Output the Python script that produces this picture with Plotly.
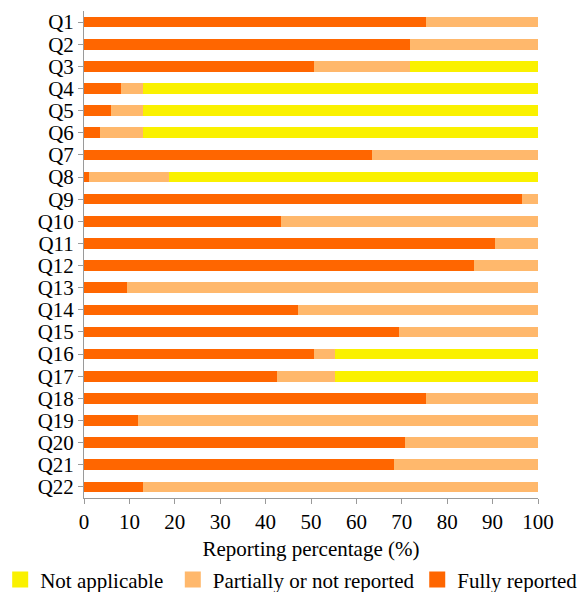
import plotly.graph_objects as go

categories = [f"Q{i}" for i in range(1, 23)]
fully = [75.3, 71.8, 50.6, 8.2, 5.9, 3.5, 63.5, 1.2, 96.5, 43.5, 90.6,
         85.9, 9.4, 47.1, 69.4, 50.6, 42.4, 75.3, 11.8, 70.6, 68.2, 12.9]
partial = [24.7, 28.2, 21.2, 4.7, 7.1, 9.4, 36.5, 17.6, 3.5, 56.5, 9.4,
           14.1, 90.6, 52.9, 30.6, 4.7, 12.9, 24.7, 88.2, 29.4, 31.8, 87.1]
not_applicable = [0, 0, 28.2, 87.1, 87.1, 87.1, 0, 81.2, 0, 0, 0,
                  0, 0, 0, 0, 44.7, 44.7, 0, 0, 0, 0, 0]
x_ticks = [0, 10, 20, 30, 40, 50, 60, 70, 80, 90, 100]

series_names = ["Fully reported", "Partially or not reported", "Not applicable"]
series_colors = ["#FF6600", "#FFB86C", "#FAF100"]
series_values = [fully, partial, not_applicable]
legend_ids = ["legend3", "legend2", "legend"]

FONT = "Liberation Serif"

fig = go.Figure()
for name, color, vals in zip(series_names, series_colors, series_values):
    fig.add_trace(go.Bar(y=categories, x=vals, orientation="h", name=name,
                         marker=dict(color=color, line=dict(width=0)), width=0.48,
                         showlegend=False))
# legend proxies (larger square swatches)
for name, color, lid in zip(series_names, series_colors, legend_ids):
    fig.add_trace(go.Scatter(x=[None], y=[None], mode="markers", name=name,
                             marker=dict(symbol="square", size=16, color=color),
                             legend=lid, showlegend=True, hoverinfo="skip"))

legend_common = dict(orientation="h", xanchor="left", y=-0.168, yanchor="middle",
                     font=dict(family=FONT, size=21, color="black"),
                     bgcolor="rgba(0,0,0,0)", borderwidth=0)

fig.update_layout(
    barmode="stack",
    width=582, height=592,
    margin=dict(l=84, r=44, t=11, b=94, autoexpand=False),
    paper_bgcolor="white", plot_bgcolor="white",
    font=dict(family=FONT, size=21, color="black"),
    showlegend=True,
    legend=dict(x=-0.1846, **legend_common),
    legend2=dict(x=0.1956, **legend_common),
    legend3=dict(x=0.734, **legend_common),
    xaxis=dict(range=[0, 100], tickvals=x_ticks, ticktext=[str(v) for v in x_ticks],
               showgrid=False, zeroline=False, showline=True, linecolor="#9a9a9a",
               linewidth=1, ticks="outside", ticklen=5, tickcolor="#9a9a9a",
               tickfont=dict(size=21),
               title=dict(text="Reporting percentage (%)", standoff=8,
                          font=dict(size=21))),
    yaxis=dict(categoryorder="array", categoryarray=categories, autorange="reversed",
               tickmode="array", tickvals=categories, ticktext=categories,
               tickfont=dict(size=21),
               showgrid=False, zeroline=False, showline=True, linecolor="#9a9a9a",
               linewidth=1, ticks="outside", ticklen=5, tickcolor="#9a9a9a"),
)

fig.write_html("out.html", config={"displayModeBar": False},
               post_script="document.body.style.margin='0';")
